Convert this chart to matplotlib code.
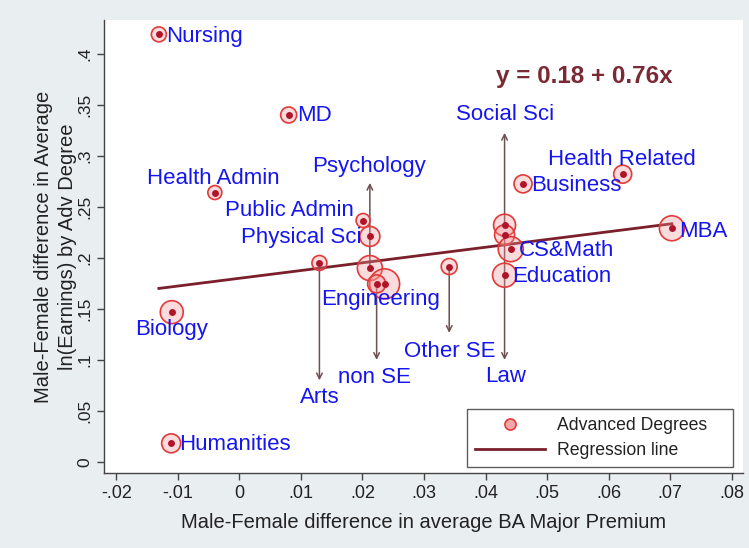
import matplotlib
matplotlib.use("Agg")
import matplotlib.pyplot as plt
from matplotlib.lines import Line2D
import numpy as np

# ---- data ----
majors = ["Nursing", "MD", "Health Admin", "Public Admin", "Physical Sci",
          "Arts", "Psychology", "Engineering", "non SE", "Other SE",
          "Social Sci", "Law", "CS&Math", "Education", "Business",
          "Health Related", "MBA", "Biology", "Humanities"]
ba_premium_diff = [-0.0131, 0.0080, -0.0040, 0.0201, 0.0212,
                   0.0130, 0.0212, 0.0236, 0.0223, 0.0341,
                   0.0431, 0.0431, 0.0441, 0.0431, 0.0461,
                   0.0623, 0.0703, -0.0110, -0.0111]
earnings_diff = [0.419, 0.340, 0.264, 0.2366, 0.221,
                 0.195, 0.190, 0.1745, 0.1745, 0.1915,
                 0.232, 0.2225, 0.2085, 0.183, 0.2725,
                 0.282, 0.229, 0.1468, 0.0183]
weights = [56, 64, 49, 49, 100,
           56, 156, 225, 81, 64,
           121, 100, 156, 144, 81,
           81, 156, 132, 90]

# arrows: end y of the arrow drawn from each major's point to its label
arrow_majors = ["Psychology", "non SE", "Arts", "Other SE", "Social Sci", "Law"]
arrow_end_y = [0.2735, 0.100, 0.080, 0.1265, 0.3225, 0.100]

intercept, slope = 0.18, 0.76

xticks = [-0.02, -0.01, 0, 0.01, 0.02, 0.03, 0.04, 0.05, 0.06, 0.07, 0.08]
yticks = [0, 0.05, 0.1, 0.15, 0.2, 0.25, 0.3, 0.35, 0.4]


def stata_fmt(v):
    if abs(v) < 1e-12:
        return "0"
    s = f"{v:.2f}".rstrip("0")
    return s.replace("0.", ".")


plt.rcParams['font.family'] = ['Liberation Sans', 'DejaVu Sans']

fig = plt.figure(figsize=(7.49, 5.48), dpi=100)
fig.patch.set_facecolor("#e9eef0")
ax = fig.add_axes([0.139, 0.1374, 0.8525, 0.826])
ax.set_facecolor("white")

ax.set_xlim(-0.022, 0.0818)
ax.set_ylim(-0.0105, 0.433)

x = np.array(ba_premium_diff)
y = np.array(earnings_diff)
w = np.array(weights)

# arrows
arrow_col = "#6e5050"
for name, ye in zip(arrow_majors, arrow_end_y):
    i = majors.index(name)
    ax.annotate("", xy=(x[i], ye), xytext=(x[i], y[i]),
                arrowprops=dict(arrowstyle="->", color=arrow_col, lw=1.1,
                                shrinkA=0, shrinkB=0, mutation_scale=10),
                zorder=2)

# regression line
xl = np.array([x.min(), x.max()])
ax.plot(xl, intercept + slope * xl, color="#7a1f2b", lw=2, zorder=3)

# scatter circles
ax.scatter(x, y, s=w * 2.07, facecolor=(0.96, 0.58, 0.58, 0.33),
           edgecolor="#e23a3a", linewidth=1.2, zorder=4)
ax.scatter(x, y, s=25, color="#b0142a", zorder=5, linewidth=0)

# labels
lab_col = "#1515ee"
fs = 16
label_pos = {
    "Nursing": (-0.0120, 0.4167, "left"),
    "MD": (0.0093, 0.339, "left"),
    "Health Admin": (-0.0151, 0.278, "left"),
    "Public Admin": (-0.0023, 0.246, "left"),
    "Physical Sci": (0.0002, 0.2196, "left"),
    "Psychology": (0.0211, 0.290, "center"),
    "Engineering": (0.0230, 0.1588, "center"),
    "Arts": (0.0131, 0.0627, "center"),
    "non SE": (0.0220, 0.0824, "center"),
    "Other SE": (0.0342, 0.1078, "center"),
    "Law": (0.0432, 0.0833, "center"),
    "Social Sci": (0.0432, 0.340, "center"),
    "Health Related": (0.0502, 0.296, "left"),
    "Business": (0.0474, 0.2706, "left"),
    "CS&Math": (0.0454, 0.2072, "left"),
    "Education": (0.0444, 0.1817, "left"),
    "MBA": (0.0715, 0.2258, "left"),
    "Biology": (-0.01107, 0.1294, "center"),
    "Humanities": (-0.00984, 0.0167, "left"),
}
for name in majors:
    lx, ly, ha = label_pos[name]
    ax.text(lx, ly, name, color=lab_col, fontsize=fs, ha=ha, va="center",
            zorder=6)

ax.text(0.04164, 0.3778, f"y = {intercept:.2f} + {slope:.2f}x",
        color="#7a2a35", fontsize=17.5, fontweight="bold", ha="left",
        va="center", zorder=6)

# axes styling
for sp in ["top", "right"]:
    ax.spines[sp].set_visible(False)
for sp in ["left", "bottom"]:
    ax.spines[sp].set_color("#444444")
    ax.spines[sp].set_linewidth(1.0)

ax.set_xticks(xticks)
ax.set_xticklabels([stata_fmt(v) for v in xticks])
ax.set_yticks(yticks)
ax.set_yticklabels([stata_fmt(v) for v in yticks], rotation=90, va="center")
ax.tick_params(axis="both", direction="out", length=5, width=1,
               color="#444444", labelcolor="#222222")
ax.tick_params(axis="x", labelsize=13)
ax.tick_params(axis="y", labelsize=12.5)

ax.set_xlabel("Male-Female difference in average BA Major Premium",
              fontsize=14.5, color="#222222", labelpad=8)
ax.set_ylabel("Male-Female difference in Average\nln(Earnings) by Adv Degree",
              fontsize=14.5, color="#222222", labelpad=0, linespacing=1.35)

# legend
handles = [
    Line2D([], [], linestyle="none", marker="o", markersize=8,
           markerfacecolor=(0.96, 0.65, 0.65), markeredgecolor="#e23a3a",
           markeredgewidth=1.2),
    Line2D([], [], color="#7a1f2b", lw=2),
]
ax_left_px = 0.139 * 749
ax_w_px = 0.8525 * 749
ax_bot_px = 548 * (1 - 0.1374)
ax_h_px = 0.826 * 548
leg_x0 = (467 - ax_left_px) / ax_w_px
leg_w = (733 - 467) / ax_w_px
leg_y0 = (ax_bot_px - 467) / ax_h_px
leg = ax.legend(handles, ["Advanced Degrees", "Regression line"],
                loc="lower left", bbox_to_anchor=(leg_x0, leg_y0, leg_w, 0.1),
                mode="expand", fontsize=12.7, frameon=True, fancybox=False,
                handlelength=4.0, borderpad=0.45, labelspacing=0.45,
                handletextpad=0.65, borderaxespad=0)
leg.get_frame().set_edgecolor("#333333")
leg.get_frame().set_linewidth(1.0)
for t in leg.get_texts():
    t.set_color("#222222")

fig.savefig("out.png", dpi=100, facecolor=fig.get_facecolor())
